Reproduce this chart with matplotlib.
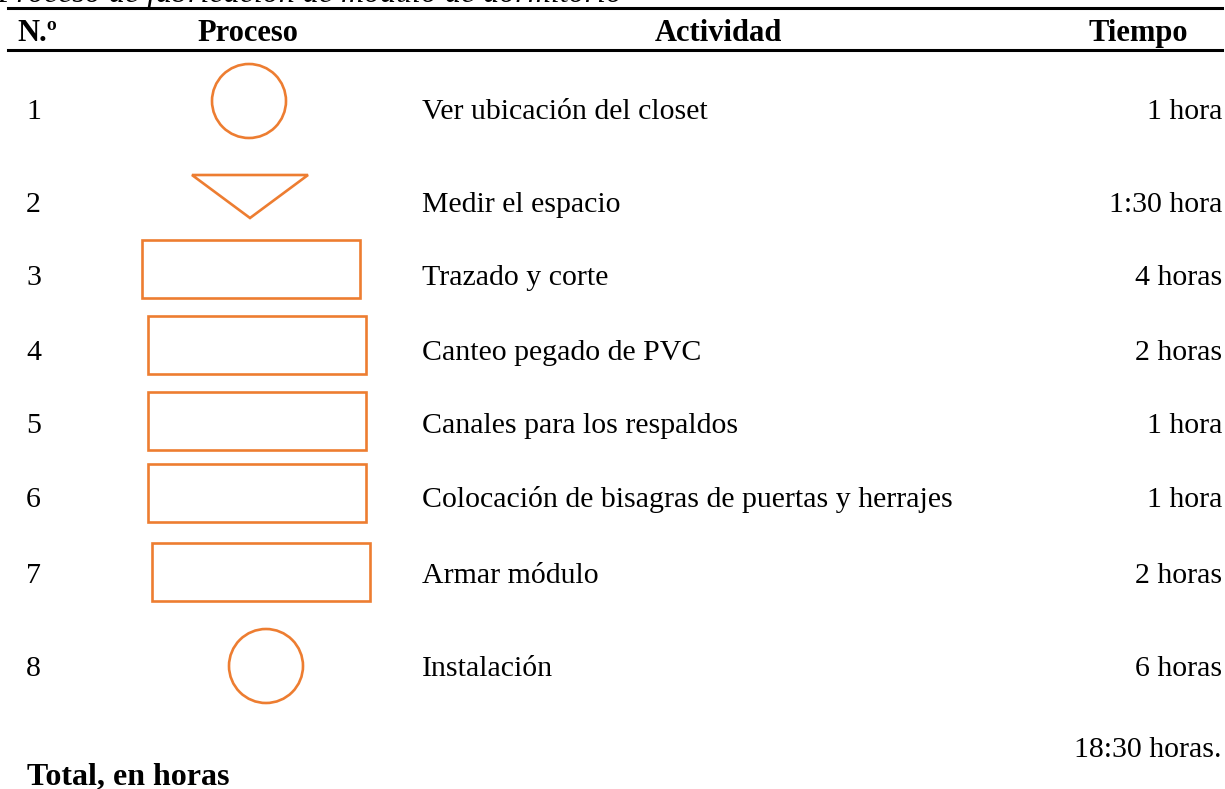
import matplotlib.pyplot as plt
from matplotlib.patches import Circle, Rectangle, Polygon

# Datos de la tabla
titulo = "Proceso de fabricación de módulo de dormitorio"
encabezados = ["N.º", "Proceso", "Actividad", "Tiempo"]
numeros = ["1", "2", "3", "4", "5", "6", "7", "8"]
simbolos = ["circulo", "triangulo", "rect", "rect", "rect", "rect", "rect", "circulo"]
actividades = [
    "Ver ubicación del closet",
    "Medir el espacio",
    "Trazado y corte",
    "Canteo pegado de PVC",
    "Canales para los respaldos",
    "Colocación de bisagras de puertas y herrajes",
    "Armar módulo",
    "Instalación",
]
tiempos = ["1 hora", "1:30 hora", "4 horas", "2 horas", "1 hora", "1 hora", "2 horas", "6 horas"]
total_etiqueta = "Total, en horas"
total_valor = "18:30 horas."

# Disposición (en píxeles de la imagen)
W, H = 1225, 789
fila_base = [119, 212, 285, 360, 433, 507, 583, 676]
# centro de cada símbolo
simbolo_cx = [249, 250, 251, 257, 257, 257, 261, 266]
simbolo_cy = [101, 196, 269, 345, 421, 493, 572, 666]
rect_w, rect_h = 218, 58
radio = 37
naranja = "#ED7D31"
fuente = "Liberation Serif"
fs = 21.5

fig = plt.figure(figsize=(W / 100, H / 100), dpi=100)
ax = fig.add_axes([0, 0, 1, 1])
ax.set_xlim(0, W)
ax.set_ylim(H, 0)
ax.axis("off")

# Título (recortado en el borde superior, como en el original)
ax.text(-3, 2, titulo, fontsize=23, family=fuente, style="italic",
        ha="left", va="baseline")

# Líneas del encabezado
ax.plot([8, 1222], [8, 8], color="black", lw=2.2)
ax.plot([8, 1222], [50, 50], color="black", lw=2.2)

hx = [37, 248, 718, 1138]
for x, t in zip(hx, encabezados):
    ax.text(x, 41, t, fontsize=22, family=fuente, weight="bold",
            ha="center", va="baseline")

for i in range(len(numeros)):
    y = fila_base[i]
    ax.text(26, y, numeros[i], fontsize=fs, family=fuente, ha="left", va="baseline")
    ax.text(422, y, actividades[i], fontsize=fs, family=fuente, ha="left", va="baseline")
    ax.text(1222, y, tiempos[i], fontsize=fs, family=fuente, ha="right", va="baseline")

    cx, cy = simbolo_cx[i], simbolo_cy[i]
    if simbolos[i] == "circulo":
        p = Circle((cx, cy), radio, fill=False, ec=naranja, lw=1.9)
    elif simbolos[i] == "triangulo":
        p = Polygon([(cx - 58, 175), (cx + 58, 175), (cx, 218)], closed=True,
                    fill=False, ec=naranja, lw=1.9)
    else:
        p = Rectangle((cx - rect_w / 2, cy - rect_h / 2), rect_w, rect_h,
                      fill=False, ec=naranja, lw=1.9)
    ax.add_patch(p)

ax.text(27, 784, total_etiqueta, fontsize=23, family=fuente, weight="bold",
        ha="left", va="baseline")
ax.text(1222, 757, total_valor, fontsize=fs, family=fuente, ha="right", va="baseline")

fig.savefig("out.png", dpi=100)
